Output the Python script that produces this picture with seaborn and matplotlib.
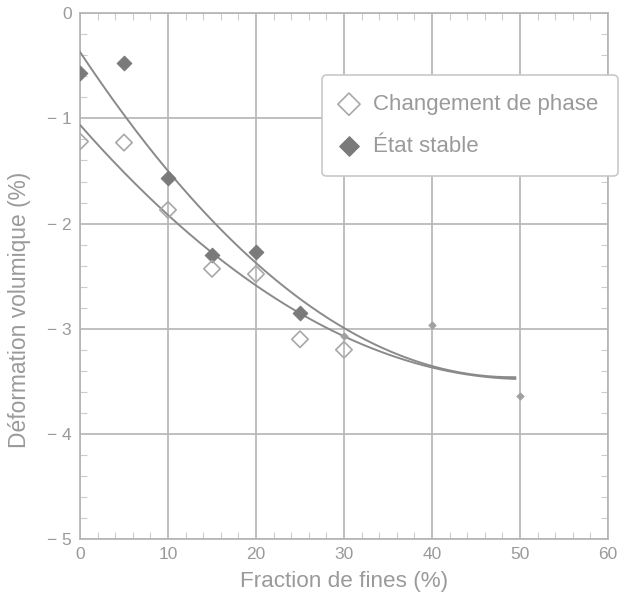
import numpy as np
import pandas as pd
import matplotlib
matplotlib.use("Agg")
import matplotlib.pyplot as plt
from matplotlib.ticker import MultipleLocator, FuncFormatter
import seaborn as sns

# Measured points: volumetric strain versus fines content
fines_phase = [0, 5, 10, 15, 20, 25, 30]
strain_phase = [-1.22, -1.23, -1.87, -2.43, -2.48, -3.10, -3.20]
fines_stable = [0, 5, 10, 15, 20, 25]
strain_stable = [-0.57, -0.47, -1.57, -2.30, -2.27, -2.85]
# faint points (shown small), common to both trends at 40 and 50 %
fines_faint_stable = [30]
strain_faint_stable = [-3.07]
fines_shared = [40, 50]
strain_shared = [-2.96, -3.64]

label_phase = "Changement de phase"
label_stable = "État stable"

sns.set_theme(style="white")
plt.rcParams["font.family"] = ["Liberation Sans", "DejaVu Sans"]

TXT = "#9a9a9a"
GRID = "#b4b4b4"

fig = plt.figure(figsize=(6.21, 6.01), dpi=100)
ax = fig.add_axes([0.1288, 0.103, 0.8502, 0.875])

# quadratic trend of each series
xs = np.linspace(0, 49.5, 200)
fit_sets = (
    (fines_phase + fines_shared, strain_phase + strain_shared),
    (fines_stable + fines_faint_stable + fines_shared,
     strain_stable + strain_faint_stable + strain_shared),
)
for xv, yv in fit_sets:
    coef = np.polyfit(xv, yv, 2)
    sns.lineplot(x=xs, y=np.polyval(coef, xs), ax=ax, color="#8a8a8a",
                 linewidth=1.4, zorder=3)

sns.scatterplot(x=fines_stable, y=strain_stable, ax=ax,
                marker="D", s=55, color="#7a7a7a", edgecolor="#7a7a7a",
                linewidth=0.8, label=label_stable, zorder=4)
sns.scatterplot(x=fines_phase, y=strain_phase, ax=ax,
                marker="D", s=70, facecolor="none", edgecolor="#a8a8a8",
                linewidth=1.2, label=label_phase, zorder=5)
sns.scatterplot(x=fines_faint_stable + fines_shared,
                y=strain_faint_stable + strain_shared, ax=ax,
                marker="D", s=14, color="#a0a0a0", edgecolor="#a0a0a0",
                linewidth=0.6, zorder=4)

ax.set_xlim(0, 60)
ax.set_ylim(-5, 0)
ax.xaxis.set_major_locator(MultipleLocator(10))
ax.xaxis.set_minor_locator(MultipleLocator(2))
ax.yaxis.set_major_locator(MultipleLocator(1))
ax.yaxis.set_minor_locator(MultipleLocator(0.2))
ax.yaxis.set_major_formatter(FuncFormatter(
    lambda v, p: "0" if abs(v) < 1e-9 else ("\u2212 %d" % abs(v) if v < 0 else "%d" % v)))

ax.grid(True, which="major", color=GRID, linewidth=1.2)
for s in ax.spines.values():
    s.set_color(GRID)
    s.set_linewidth(1.2)
ax.tick_params(which="major", length=0, labelsize=12.5, colors=TXT, pad=6)
ax.tick_params(which="minor", direction="in", length=5, width=0.8, color="#cccccc",
               top=True, bottom=True, left=True, right=True)

ax.set_xlabel("Fraction de fines (%)", fontsize=16.2, color=TXT, labelpad=6)
ax.set_ylabel("Déformation volumique (%)", fontsize=16.4, color=TXT)
ax.yaxis.set_label_coords(-0.093, 0.435)

handles, labels = ax.get_legend_handles_labels()
order = [labels.index(label_phase), labels.index(label_stable)]
leg = ax.legend([handles[i] for i in order], [labels[i] for i in order],
                loc="upper left", bbox_to_anchor=(0.519, 0.875),
                bbox_transform=fig.transFigure, borderaxespad=0,
                fontsize=16, frameon=True,
                fancybox=True, edgecolor="#c8c8c8", framealpha=1,
                handletextpad=0.75, borderpad=0.85, labelspacing=0.95,
                handlelength=0.7, markerscale=1.35)
for t in leg.get_texts():
    t.set_color(TXT)
leg.get_frame().set_linewidth(1.2)

fig.savefig("out.png", dpi=100, facecolor="white")
